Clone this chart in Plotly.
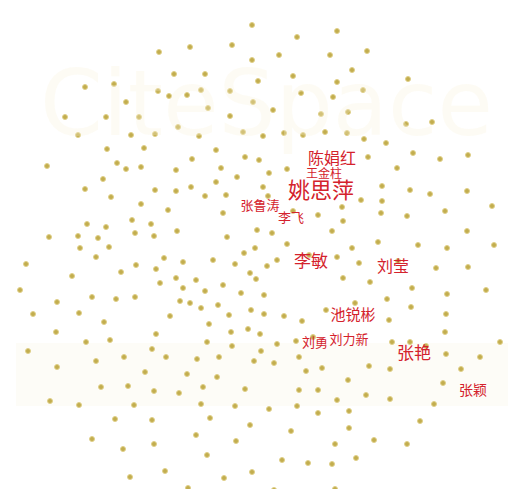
import plotly.graph_objects as go

node_x = [244,151,182,224,244,77,106,166,197,250,150,161,179,193,222,118,245,200,57,98,131,222,170,70,123,147,191,235,255,
          99,136,208,184,237,251,39,109,118,133,168,213,95,229,208,77,147,168,183,197,218,255,103,133,160,215,79,98,124,143,
          41,70,90,127,146,169,219,249,72,101,247,236,
          329,289,271,322,359,344,285,329,400,293,325,355,265,313,340,398,424,276,295,317,339,356,378,405,432,460,360,389,
          261,279,374,402,422,459,353,374,260,334,373,399,437,484,285,310,335,264,324,459,279,370,410,439,486,344,
          88,18,156,175,205,227,128,113,148,242,248,64,168,188,152,215,12,175,197,233,256,49,84,108,127,172,182,193,210,243,
          256,25,71,162,221,96,201,48,148,223,240,252,78,102,144,199,224,253,20,88,116,158,189,211,246,49,137,179,209,93,120,
          146,171,195,237,42,71,126,193,227,202,107,144,242,188,84,115,146,228,199,122,157,216,244,180,
          269,259,301,329,351,390,428,460,335,362,404,439,478,347,379,403,318,438,276,294,381,437,269,288,305,384,402,418,492,
          266,291,438,472,361,382,298,314,453,340,435,291,310,329,358,382,426,261,289,310,341,412,283,341,366,327,399,274,300,
          324,348,266,296,327]
node_y = [17,44,39,37,52,79,76,66,66,73,83,88,87,82,83,94,94,100,109,109,109,108,119,127,127,126,128,124,128,
          141,140,142,151,149,152,158,155,161,159,162,160,171,169,174,181,182,183,179,188,187,179,189,196,202,205,216,219,212,216,
          229,228,230,225,228,223,229,222,240,239,240,245,
          23,29,47,47,43,62,68,74,71,85,89,82,102,106,104,116,114,125,127,124,125,131,135,145,151,147,149,160,
          165,161,178,182,186,183,192,193,188,199,205,208,203,198,203,207,213,225,223,223,236,234,237,240,237,240,
          249,256,250,254,252,256,257,264,261,265,271,268,270,272,275,277,282,280,283,285,287,294,289,291,289,293,295,300,297,302,
          306,306,305,308,307,314,316,324,326,324,321,326,334,332,341,334,338,343,343,353,349,349,351,349,353,359,364,366,369,379,378,
          383,385,379,381,393,397,397,396,398,410,411,412,417,427,431,441,436,433,447,469,463,470,464,480,
          252,258,247,249,255,253,260,259,270,274,280,286,282,295,291,299,302,306,308,313,312,324,336,333,329,334,334,338,334,
          355,349,346,349,358,361,363,360,361,372,375,382,382,392,387,391,396,401,398,405,403,413,423,420,432,436,436,452,455,
          456,450,482,487,481]

label_text = ["陈娟红", "王金柱", "姚思萍", "张鲁涛", "李飞", "李敏", "刘莹", "池锐彬", "刘力新", "刘勇", "张艳", "张颖"]
label_x = [324, 316, 313, 252, 283, 303, 385, 345, 341, 307, 406, 465]
label_y = [152, 167, 184, 199, 211, 255, 260, 308, 333, 336, 347, 383]
label_size = [16, 12, 22, 13, 13, 17, 16, 15, 13, 13, 17, 14]

fig = go.Figure()

# faint watermark
fig.add_annotation(x=258, y=95, text="CiteSpace", showarrow=False,
                   font=dict(family="DejaVu Sans", size=90, color="rgba(248,242,220,0.3)"))
fig.add_shape(type="rect", x0=8, x1=516, y0=335, y1=398, line_width=0,
              fillcolor="rgba(250,245,228,0.3)", layer="below")

fig.add_trace(go.Scatter(
    x=node_x, y=node_y, mode="markers",
    marker=dict(size=5, color="#c2ad4e", line=dict(width=1, color="#e0d08a")),
    hoverinfo="skip", showlegend=False))

fig.add_trace(go.Scatter(
    x=label_x, y=label_y, mode="text", text=label_text,
    textfont=dict(family="Noto Sans CJK SC", size=label_size, color="#d4222c"),
    hoverinfo="skip", showlegend=False))

fig.update_layout(
    width=516, height=489, margin=dict(l=0, r=0, t=0, b=0),
    paper_bgcolor="white", plot_bgcolor="white",
    xaxis=dict(range=[0, 516], visible=False, fixedrange=True),
    yaxis=dict(range=[489, 0], visible=False, fixedrange=True),
)
fig.write_html("out.html")
